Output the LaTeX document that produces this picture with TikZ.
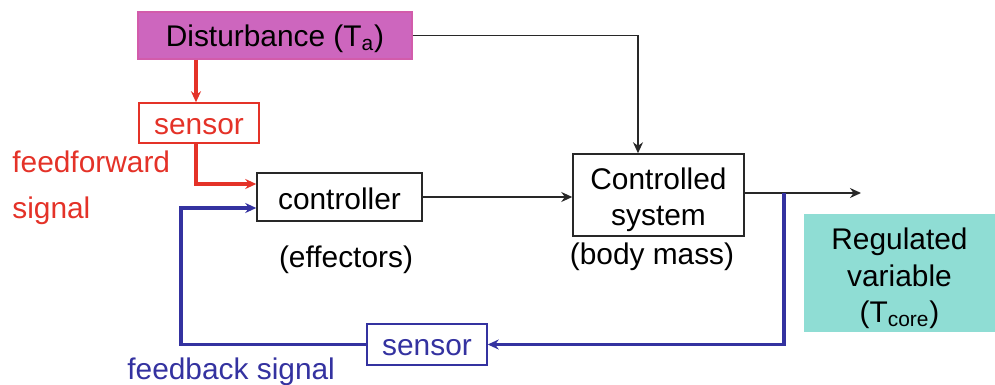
\documentclass[tikz,border=0pt]{standalone}
\usepackage{fontspec}
\setmainfont{Liberation Sans}
\usepackage{tikz}
\usepackage{xcolor}
\usetikzlibrary{positioning, arrows.meta}

\definecolor{distfill}{RGB}{205,102,190}
\definecolor{regfill}{RGB}{143,221,212}
\definecolor{ffred}{RGB}{228,50,40}
\definecolor{fbblue}{RGB}{52,50,160}
\definecolor{sigline}{RGB}{40,40,40}

% lower a line of text without changing the box size
\newcommand{\lowtext}[2]{\raisebox{-#1}[\height][\depth]{#2}}

\begin{document}
\begin{tikzpicture}[x=0.02cm, y=-0.02cm, >={Stealth[length=0.22cm, width=0.2cm]},
  font=\fontsize{17}{20.5}\selectfont,
  block/.style={draw=sigline, line width=0.85pt, inner sep=0pt, align=center},
  sig/.style={draw=sigline, line width=0.9pt},
  ffline/.style={draw=ffred, line width=2pt},
  fbline/.style={draw=fbblue, line width=2pt}]
  \useasboundingbox (0,0) rectangle (995,385);

  % Boxes (pixel positions of the figure)
  \node[block, draw=distfill!90!red, fill=distfill, minimum width=5.48cm, minimum height=0.94cm] (dist) at (275,35.5) {\lowtext{1.7pt}{Disturbance (T\textsubscript{a})}};
  \node[block, draw=ffred, text=ffred, minimum width=2.4cm, minimum height=0.8cm] (ffsensor) at (199,123) {\lowtext{2.3pt}{sensor}};
  \node[block, minimum width=3.3cm, minimum height=0.96cm] (ctrl) at (339.5,197) {\lowtext{1pt}{controller}};
  \node[block, minimum width=3.42cm, minimum height=1.64cm] (plant) at (658.5,195) {\lowtext{2.8pt}{Controlled}\\\lowtext{2.8pt}{system}};
  \node[block, draw=none, fill=regfill, minimum width=3.82cm, minimum height=2.36cm] (regvar) at (899.5,273) {\lowtext{3pt}{Regulated}\\\lowtext{3pt}{variable}\\\lowtext{3pt}{(T\textsubscript{core})}};
  \node[block, draw=fbblue, text=fbblue, minimum width=2.4cm, minimum height=0.82cm] (fbsensor) at (427,344.5) {\lowtext{2pt}{sensor}};

  % Captions
  \node (effectors) at (346,260) {(effectors)};
  \node (bodymass) at (652,257) {(body mass)};
  \node[anchor=base west, text=ffred, inner sep=0pt] (fftext) at (12,173) {feedforward};
  \node[anchor=base west, text=ffred, inner sep=0pt] (fftext2) at (12,218) {signal};
  \node[anchor=base west, text=fbblue, inner sep=0pt] (fbtext) at (127,379) {feedback signal};

  % Free ends
  \coordinate (out) at (861,193);
  \coordinate (tap) at (784,193);
  \coordinate (fbleft) at (181,344.5);

  % Main signal path
  \draw[sig,->] (dist.east) -| ([xshift=-0.41cm]plant.north);
  \draw[sig,->] (ctrl.east) -- (ctrl.east -| plant.west);
  \draw[sig,->] ([yshift=0.04cm]plant.east) -- (out);

  % Feedforward
  \draw[ffline,->] ([xshift=-0.06cm]ffsensor.north |- dist.south) -- ([xshift=-0.06cm]ffsensor.north);
  \draw[ffline,->] ([xshift=-0.06cm]ffsensor.south) |- ([yshift=0.26cm]ctrl.west);

  % Feedback
  \draw[fbline,->] (tap) |- (fbsensor.east);
  \draw[fbline,->] (fbsensor.west) -- (fbleft) |- ([yshift=-0.22cm]ctrl.west);

\end{tikzpicture}
\end{document}
